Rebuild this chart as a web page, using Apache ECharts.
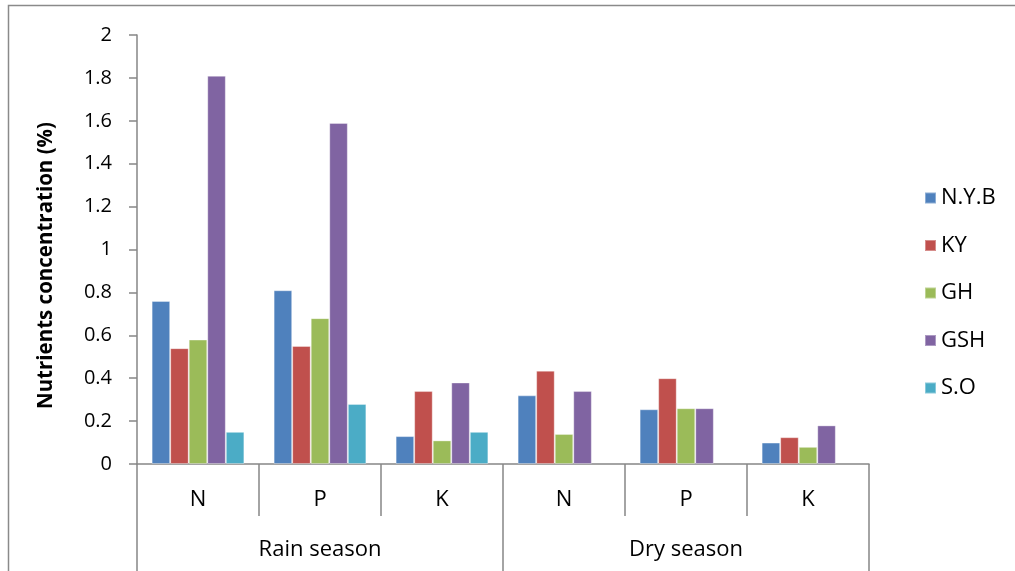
<!DOCTYPE html>
<html>
<head>
<meta charset="utf-8">
<script src="https://cdn.jsdelivr.net/npm/echarts@6/dist/echarts.min.js"></script>
<style>
  html, body { margin: 0; padding: 0; background: #fff; }
  #chart { width: 1015px; height: 571px; }
</style>
</head>
<body>
<div id="chart"></div>
<script>
// Nutrient levels (%) by element, grouped by season
const nutrients = ['N', 'P', 'K', 'N', 'P', 'K'];
const seasons = ['Rain season', 'Dry season'];
const seriesNames = ['N.Y.B', 'KY', 'GH', 'GSH', 'S.O'];

const nyb = [0.76, 0.81, 0.13, 0.32, 0.255, 0.10];
const ky  = [0.54, 0.55, 0.34, 0.435, 0.40, 0.125];
const gh  = [0.58, 0.68, 0.11, 0.14, 0.26, 0.08];
const gsh = [1.81, 1.59, 0.38, 0.34, 0.26, 0.18];
const so  = [0.15, 0.28, 0.15, null, null, null];

const yTicks = [0, 0.2, 0.4, 0.6, 0.8, 1, 1.2, 1.4, 1.6, 1.8, 2];

const colors = ['#4F81BD', '#C0504D', '#9BBB59', '#8064A2', '#4BACC6'];
const values = [nyb, ky, gh, gsh, so];

const FONT = 'Open Sans';
const axisGray = '#868686';

const chart = echarts.init(document.getElementById('chart'), null, { renderer: 'canvas' });

chart.setOption({
  animation: false,
  backgroundColor: '#ffffff',
  color: colors,
  textStyle: { fontFamily: FONT },
  graphic: [{
    type: 'rect',
    shape: { x: 8.5, y: 5.5, width: 1100, height: 700 },
    style: { fill: 'none', stroke: '#8a8a8a', lineWidth: 1.5 },
    silent: true
  }],
  grid: { left: 137, right: 146, top: 35, bottom: 107, containLabel: false },
  legend: {
    orient: 'vertical',
    left: 919,
    top: 181,
    icon: 'rect',
    itemWidth: 11,
    itemHeight: 11,
    itemGap: 23.5,
    data: seriesNames,
    textStyle: { fontFamily: FONT, fontSize: 22, color: '#000', lineHeight: 24 }
  },
  xAxis: [{
    type: 'category',
    data: nutrients,
    position: 'bottom',
    axisLine: { show: true, lineStyle: { color: axisGray, width: 1.5 } },
    axisTick: { show: true, length: 52, interval: 0, lineStyle: { color: axisGray, width: 1.5 } },
    axisLabel: { interval: 0, margin: 25, fontFamily: FONT, fontSize: 22, color: '#000' },
    splitLine: { show: false }
  }, {
    type: 'category',
    data: seasons,
    position: 'bottom',
    axisLine: { show: false },
    axisTick: { show: true, length: 110, interval: 0, lineStyle: { color: axisGray, width: 1.5 } },
    axisLabel: { interval: 0, margin: 75, fontFamily: FONT, fontSize: 22, color: '#000' },
    splitLine: { show: false }
  }],
  yAxis: {
    type: 'value',
    min: yTicks[0],
    max: yTicks[yTicks.length - 1],
    interval: 0.2,
    name: 'Nutrients concentration (%)',
    nameLocation: 'middle',
    nameGap: 80,
    nameRotate: 90,
    nameTextStyle: {
      fontFamily: FONT, fontSize: 20.5, fontWeight: 'bold', color: '#000',
      padding: [0, 32, 0, 0]
    },
    axisLine: { show: true, lineStyle: { color: axisGray, width: 1.5 } },
    axisTick: { show: true, length: 8, lineStyle: { color: axisGray, width: 1.5 } },
    axisLabel: {
      margin: 25,
      fontFamily: FONT,
      fontSize: 20,
      color: '#000',
      formatter: v => String(+v.toFixed(1))
    },
    splitLine: { show: false }
  },
  series: seriesNames.map((name, i) => ({
    name: name,
    type: 'bar',
    xAxisIndex: 0,
    data: values[i],
    barGap: '0%',
    barCategoryGap: '24%',
    itemStyle: { color: colors[i], borderColor: 'rgba(255,255,255,0.35)', borderWidth: 1 }
  }))
});
</script>
</body>
</html>
